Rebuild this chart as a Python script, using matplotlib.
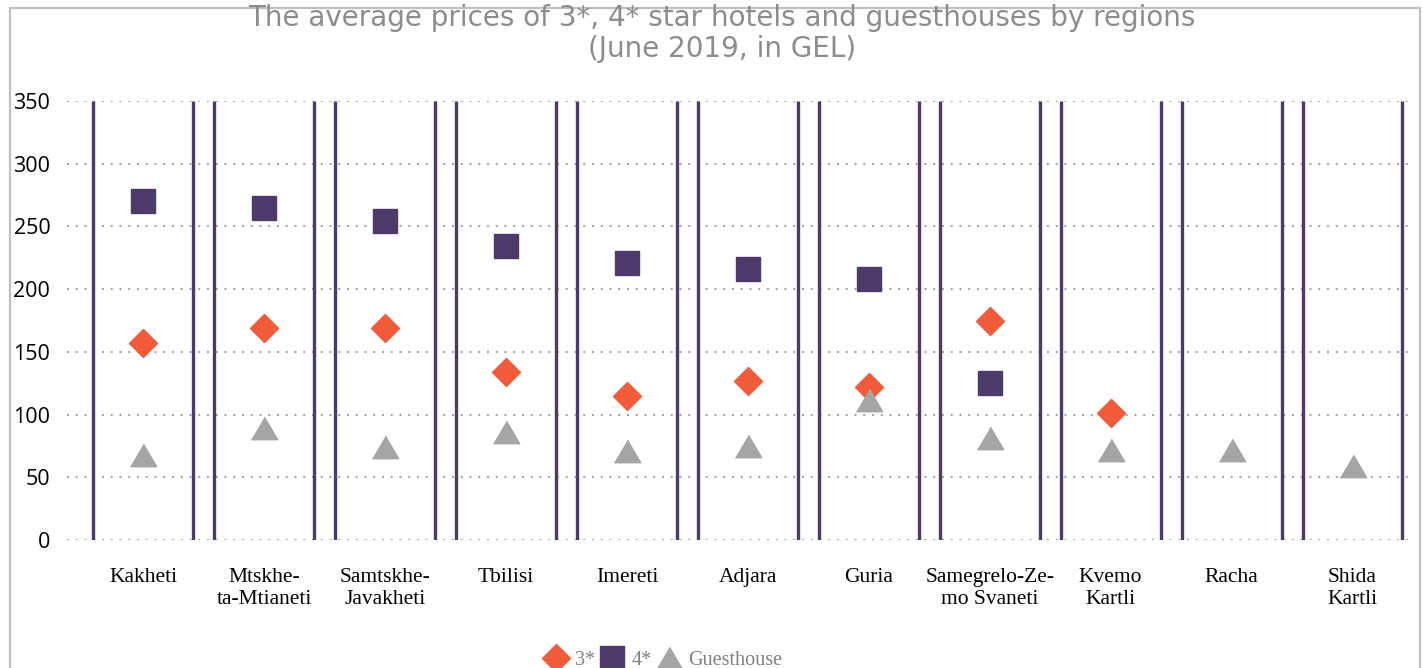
import matplotlib.pyplot as plt
import matplotlib.patches as mpatches
import numpy as np

# regions and average prices (GEL), June 2019
regions = ["Kakheti", "Mtskhe-\nta-Mtianeti", "Samtskhe-\nJavakheti", "Tbilisi",
           "Imereti", "Adjara", "Guria", "Samegrelo-Ze-\nmo Svaneti",
           "Kvemo\nKartli", "Racha", "Shida\nKartli"]
three_star = [157, 169, 169, 134, 115, 127, 122, 175, 101, np.nan, np.nan]
four_star = [270, 265, 254, 234, 221, 216, 208, 125, np.nan, np.nan, np.nan]
guesthouse = [68, 89, 74, 86, 71, 75, 112, 81, 72, 72, 59]
y_ticks = [0, 50, 100, 150, 200, 250, 300, 350]

purple = "#4E3A6A"
orange = "#F15B3A"
grey = "#A5A5A5"

W, H = 1423, 668
fig = plt.figure(figsize=(W / 100, H / 100), dpi=100)

# outer frame of the chart
frame = mpatches.Rectangle((10 / W, -0.05), (1420 - 10) / W, (H - 8) / H + 0.05,
                           transform=fig.transFigure, fill=False,
                           edgecolor="#C0C0C0", linewidth=1.6)
fig.patches.append(frame)

ax = fig.add_axes([67 / W, (H - 540) / H, (1413 - 67) / W, (540 - 101) / H])

x = np.arange(len(regions))

# separator lines around each category
ax.vlines(x - 0.413, 0, 350, color=purple, linewidth=2.4, zorder=2)
ax.vlines(x + 0.413, 0, 350, color=purple, linewidth=2.4, zorder=2)

tri = [(-1, -0.85), (1, -0.85), (0, 0.85)]
ax.plot(x, three_star, linestyle="none", marker="D", markersize=14,
        color=orange, label="3*", zorder=3)
ax.plot(x, four_star, linestyle="none", marker="s", markersize=17,
        color=purple, label="4*", zorder=3)
ax.plot(x, guesthouse, linestyle="none", marker=tri, markersize=19,
        color=grey, label="Guesthouse", zorder=4)

ax.set_xlim(-0.63, 10.5)
ax.set_ylim(0, 350)
ax.set_yticks(y_ticks)
ax.set_yticklabels([str(v) for v in y_ticks], fontfamily="Open Sans", fontsize=15.5)
ax.set_xticks(x)
ax.set_xticklabels(regions, fontfamily="Liberation Serif", fontsize=15.5,
                   linespacing=1.2, va="top")
ax.tick_params(axis="both", length=0)
ax.tick_params(axis="y", pad=12)
ax.tick_params(axis="x", pad=20)

ax.yaxis.grid(True, color="#A0A0A0", linestyle=(0, (1, 3.5)), linewidth=1.4)
ax.set_axisbelow(True)
for s in ax.spines.values():
    s.set_visible(False)

fig.text(722 / W, 1 - 18 / H, "The average prices of 3*, 4* star hotels and guesthouses by regions",
         ha="center", va="center", fontsize=20, color="#8C8C8C", fontfamily="DejaVu Sans")
fig.text(722 / W, 1 - 49 / H, "(June 2019, in GEL)",
         ha="center", va="center", fontsize=20, color="#8C8C8C", fontfamily="DejaVu Sans")

leg = fig.legend(loc="center", bbox_to_anchor=(664 / W, 1 - 660 / H), ncol=3,
                 frameon=False, handletextpad=0.45, columnspacing=0.35,
                 handlelength=1.0, prop={"family": "Liberation Serif", "size": 14.5})
for t in leg.get_texts():
    t.set_color("#808080")

fig.savefig("out.png", dpi=100)
